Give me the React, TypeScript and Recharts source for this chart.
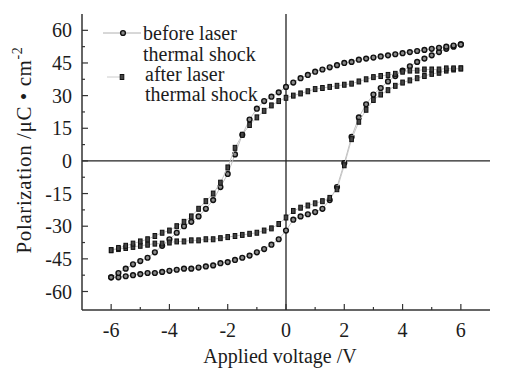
import {
  Legend,
  ReferenceLine,
  Scatter,
  ScatterChart,
  XAxis,
  YAxis,
} from "recharts";

const FONT = '"Liberation Serif", "Times New Roman", serif';
const INK = "#1c1c1c";

// applied voltage steps (V), shared by every branch
const voltage = [
  -6, -5.75, -5.5, -5.25, -5, -4.75, -4.5, -4.25, -4, -3.75, -3.5, -3.25, -3, -2.75, -2.5, -2.25,
  -2, -1.75, -1.5, -1.25, -1, -0.75, -0.5, -0.25, 0, 0.25, 0.5, 0.75, 1, 1.25, 1.5, 1.75, 2, 2.25,
  2.5, 2.75, 3, 3.25, 3.5, 3.75, 4, 4.25, 4.5, 4.75, 5, 5.25, 5.5, 5.75, 6,
];

// before laser thermal shock, µC/cm²
const beforeRising = [
  -53.5, -53.5, -53, -52.5, -52, -51.5, -51.5, -51, -50.5, -50, -49.5, -49.5, -49, -48.5, -48, -47,
  -46.5, -45.5, -44.5, -43.5, -42, -40.5, -38.5, -36, -32, -27, -25.5, -24.5, -23.5, -22, -18, -12,
  -1, 11, 20, 26, 30.5, 33.5, 36.5, 39, 41.5, 43.5, 45.5, 47, 48.5, 50, 51.5, 52.5, 53.5,
];
const beforeFalling = [
  -53.5, -51.5, -49.5, -47.5, -46, -44.5, -42, -39, -36, -33, -30, -28, -25.5, -22, -18, -12, -6, 3,
  12, 19, 24, 27.5, 29.5, 31.5, 34, 36, 38, 39.5, 41, 42, 43, 44, 45, 45.5, 46.5, 47, 47.5, 48, 48.5,
  49, 49.5, 50, 50.5, 51, 51.5, 52, 52.5, 53, 53.5,
];

// after laser thermal shock
const afterRising = [
  -41, -40.5, -40, -39.5, -39, -38.5, -38, -38, -37.5, -37, -37, -36.5, -36.5, -36, -36, -35.5, -35,
  -34.5, -34, -33.5, -33, -32, -31, -29, -26, -23, -21.5, -20.5, -19.5, -18.5, -17, -13, -2, 10, 18,
  23.5, 28, 30.5, 32.5, 34.5, 36, 37, 38, 39, 40, 40.5, 41.5, 42, 42.5,
];
const afterFalling = [
  -41, -40, -39, -38, -37, -36, -34.5, -33, -32, -30, -28, -25.5, -22, -18.5, -15, -10, -3, 6, 12,
  16.5, 20, 23, 25.5, 27.5, 29, 30, 31, 32, 33, 33.5, 34, 34.5, 35, 35.5, 36.5, 37.5, 38.5, 39, 39.5,
  40, 41, 41.5, 41.5, 42, 42, 42, 42.5, 42.5, 42.5,
];

const xTicks = [-6, -5, -4, -3, -2, -1, 0, 1, 2, 3, 4, 5, 6];
const yTicks = [-60, -52.5, -45, -37.5, -30, -22.5, -15, -7.5, 0, 7.5, 15, 22.5, 30, 37.5, 45, 52.5, 60];

// loop: up the lower branch, then back down the upper one
const makeLoop = (rising: number[], falling: number[]) => [
  ...voltage.map((v, i) => ({ x: v, y: rising[i] })),
  ...voltage.map((v, i) => ({ x: v, y: falling[i] })).reverse(),
];

const beforeData = makeLoop(beforeRising, beforeFalling);
const afterData = makeLoop(afterRising, afterFalling);

const CircleMark = ({ cx, cy }: { cx?: number; cy?: number }) => (
  <circle cx={cx} cy={cy} r={2.4} fill="#8a8a8a" stroke="#111" strokeWidth={1.4} />
);

const SquareMark = ({ cx, cy }: { cx?: number; cy?: number }) =>
  cx == null || cy == null ? null : (
    <rect x={cx - 1.8} y={cy - 2.5} width={3.6} height={5} fill="#444" stroke="#111" strokeWidth={1} />
  );

type TickProps = { x?: number; y?: number; payload?: { value: number } };

const makeXTick = (side: "bottom" | "top") => (props: TickProps) => {
  const { x = 0, y = 0, payload } = props;
  const v = payload ? payload.value : 0;
  const major = v % 2 === 0;
  const len = major ? 6 : 3;
  const dir = side === "bottom" ? -1 : 1;
  return (
    <g>
      <line x1={x} y1={y} x2={x} y2={y + dir * len} stroke="#333" strokeWidth={1.2} />
      {side === "bottom" && major && (
        <text x={x} y={y + 27} textAnchor="middle" fontSize={20} fontFamily={FONT} fill={INK}>
          {v}
        </text>
      )}
    </g>
  );
};

const makeYTick = (side: "left" | "right") => (props: TickProps) => {
  const { x = 0, y = 0, payload } = props;
  const v = payload ? payload.value : 0;
  const major = v % 15 === 0;
  const len = major ? 6 : 3;
  const dir = side === "left" ? 1 : -1;
  return (
    <g>
      <line x1={x} y1={y} x2={x + dir * len} y2={y} stroke="#333" strokeWidth={1.2} />
      {side === "left" && major && (
        <text x={x - 10} y={y + 7} textAnchor="end" fontSize={20} fontFamily={FONT} fill={INK}>
          {v}
        </text>
      )}
    </g>
  );
};

const YTitle = (props: { viewBox?: { x: number; y: number; width: number; height: number } }) => {
  const vb = props.viewBox || { x: 0, y: 14, width: 82, height: 296 };
  const cx = vb.x + 31;
  const cy = vb.y + 136;
  return (
    <text
      x={cx}
      y={cy}
      transform={`rotate(-90 ${cx} ${cy})`}
      textAnchor="middle"
      fontSize={21}
      letterSpacing={0.6}
      fontFamily={FONT}
      fill={INK}
    >
      Polarization /μC • cm
      <tspan dy={-9} fontSize={14}>
        -2
      </tspan>
    </text>
  );
};

const XTitle = (props: { viewBox?: { x: number; y: number; width: number; height: number } }) => {
  const vb = props.viewBox || { x: 82, y: 310, width: 408, height: 62 };
  return (
    <text x={vb.x + 198} y={vb.y + 53} textAnchor="middle" fontSize={20} fontFamily={FONT} fill={INK}>
      Applied voltage /V
    </text>
  );
};

function LegendBox() {
  return (
    <svg width={180} height={90} style={{ overflow: "visible" }}>
      <line x1={3} y1={11} x2={41} y2={11} stroke="#b0b0b0" strokeWidth={1} />
      <circle cx={23} cy={11} r={2.4} fill="#8a8a8a" stroke="#111" strokeWidth={1.4} />
      <text x={43} y={18} fontSize={20} fontFamily={FONT} fill={INK}>
        before laser
      </text>
      <text x={43} y={39} fontSize={20} fontFamily={FONT} fill={INK}>
        thermal shock
      </text>
      <line x1={7} y1={55} x2={20} y2={55} stroke="#ccc" strokeWidth={1} />
      <rect x={20.2} y={52.5} width={3.6} height={5} fill="#444" stroke="#111" strokeWidth={1} />
      <text x={45} y={59} fontSize={20} fontFamily={FONT} fill={INK}>
        after laser
      </text>
      <text x={45} y={79} fontSize={20} fontFamily={FONT} fill={INK}>
        thermal shock
      </text>
    </svg>
  );
}

export default function App() {
  return (
    <div style={{ position: "absolute", left: 0, top: 0, width: 508, height: 372, background: "#fff" }}>
      <ScatterChart width={508} height={372} margin={{ top: 14, right: 18, bottom: 0, left: 0 }}>
        <XAxis
          type="number"
          dataKey="x"
          domain={[-7, 7]}
          ticks={xTicks}
          interval={0}
          height={62}
          tickSize={0}
          tickMargin={0}
          tickLine={false}
          axisLine={{ stroke: "#333", strokeWidth: 1.5 }}
          tick={makeXTick("bottom")}
          label={{ content: XTitle }}
        />
        <XAxis
          xAxisId="top"
          orientation="top"
          type="number"
          domain={[-7, 7]}
          ticks={xTicks}
          interval={0}
          height={0}
          tickSize={0}
          tickMargin={0}
          tickLine={false}
          axisLine={{ stroke: "#444", strokeWidth: 1.3 }}
          tick={makeXTick("top")}
        />
        <YAxis
          type="number"
          dataKey="y"
          domain={[-68.5, 67.5]}
          ticks={yTicks}
          interval={0}
          width={82}
          tickSize={0}
          tickMargin={0}
          tickLine={false}
          axisLine={{ stroke: "#333", strokeWidth: 1.5 }}
          tick={makeYTick("left")}
          label={{ content: YTitle }}
        />
        <YAxis
          yAxisId="right"
          orientation="right"
          type="number"
          domain={[-68.5, 67.5]}
          ticks={yTicks}
          interval={0}
          width={0}
          tickSize={0}
          tickMargin={0}
          tickLine={false}
          axisLine={{ stroke: "#666", strokeWidth: 1.3 }}
          tick={makeYTick("right")}
        />
        <ReferenceLine x={0} stroke="#222" strokeWidth={1.3} />
        <ReferenceLine y={0} stroke="#222" strokeWidth={1.3} />
        <Scatter
          name="before laser thermal shock"
          data={beforeData}
          line={{ stroke: "#c0c0c0", strokeWidth: 1 }}
          lineType="joint"
          shape={CircleMark}
          isAnimationActive={false}
        />
        <Scatter
          name="after laser thermal shock"
          data={afterData}
          line={{ stroke: "#c8c8c8", strokeWidth: 1 }}
          lineType="joint"
          shape={SquareMark}
          isAnimationActive={false}
        />
        <Legend
          layout="vertical"
          align="center"
          verticalAlign="middle"
          content={LegendBox}
          wrapperStyle={{ position: "absolute", left: 100, top: 22, width: 180, height: 90 }}
        />
      </ScatterChart>
    </div>
  );
}
